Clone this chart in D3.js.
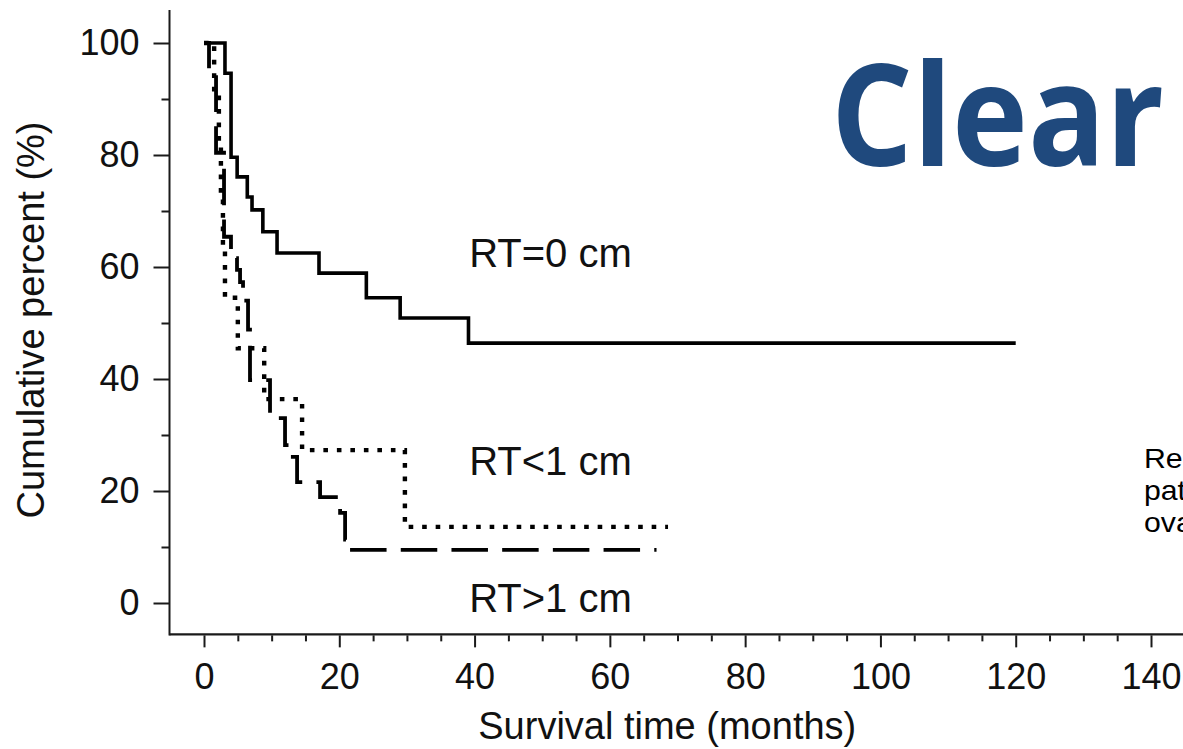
<!DOCTYPE html>
<html>
<head>
<meta charset="utf-8">
<script src="https://cdn.jsdelivr.net/npm/d3@7"></script>
<style>
  html, body { margin: 0; padding: 0; background: #fff; overflow: hidden; }
  svg { display: block; }
  text { font-family: "Liberation Sans", Arial, Helvetica, sans-serif; fill: #111; }
</style>
</head>
<body>
<svg id="chart" width="1183" height="749"></svg>
<script>
// ---- axis ticks ----
const xTicks = [0, 20, 40, 60, 80, 100, 120, 140];
const xMinorTicks = [5, 10, 15, 25, 30, 35, 45, 50, 55, 65, 70, 75, 85, 90, 95, 105, 110, 115, 125, 130, 135, 145, 150];
const yTicks = [0, 20, 40, 60, 80, 100];
const yMinorTicks = [10, 30, 50, 70, 90];

// ---- Kaplan-Meier curves: time (months) and cumulative percent surviving ----
// residual tumour = 0 cm (solid)
const rt0Time = [0, 3.1, 4.0, 4.9, 6.4, 7.1, 8.7, 10.8, 17.0, 24.0, 29.0, 39.1, 120];
const rt0Pct  = [100, 94.6, 79.6, 76.1, 72.5, 70.2, 66.3, 62.5, 58.9, 54.5, 50.9, 46.4, 46.4];

// residual tumour < 1 cm (dotted)
const rtLt1Time = [0, 1.5, 2.2, 2.5, 2.8, 3.1, 5.0, 8.9, 14.5, 29.7, 68.6];
const rtLt1Pct  = [100, 90.9, 81.8, 72.7, 63.6, 54.5, 45.5, 36.4, 27.3, 13.6, 13.6];

// residual tumour > 1 cm (dashed)
const rtGt1Time = [0, 0.74, 1.78, 2.96, 3.99, 4.88, 5.33, 5.77, 6.51, 6.80, 9.76, 11.98, 12.57, 13.76, 17.16, 20.12, 20.86, 21.15, 66.9];
const rtGt1Pct  = [100, 93.9, 80.4, 65.4, 61.6, 59.5, 57.3, 54.0, 48.8, 39.8, 33.0, 28.2, 26.1, 21.6, 18.9, 16.1, 11.3, 9.5, 9.5];

const curveLabels = ["RT=0 cm", "RT<1 cm", "RT>1 cm"];
const labelPos = [[39.2, 60.0], [39.2, 22.9], [39.2, -1.6]]; // [months, percent] of each label's start/baseline

const xTitle = "Survival time (months)";
const yTitle = "Cumulative percent (%)";
const headline = "Clear";
const captionLines = ["Residual tumour and survival of", "patients with clear cell", "ovarian carcinoma"];

// ---- scales ----
const svg = d3.select("#chart");
const x = d3.scaleLinear().domain([0, 140]).range([204, 1151]);
const y = d3.scaleLinear().domain([0, 100]).range([603, 43]);
const xLo = -5.1, xHi = 152, yLo = -5.6, yHi = 105.9;

const ink = "#1a1a1a";

// ---- axis frame ----
svg.append("line")
  .attr("x1", x(xLo)).attr("x2", x(xHi))
  .attr("y1", y(yLo)).attr("y2", y(yLo))
  .attr("stroke", ink).attr("stroke-width", 2.4);
svg.append("line")
  .attr("x1", x(xLo)).attr("x2", x(xLo))
  .attr("y1", y(yLo) + 1.2).attr("y2", y(yHi))
  .attr("stroke", ink).attr("stroke-width", 2);

function styleAxis(g) {
  g.select(".domain").remove();
  g.selectAll(".tick line").attr("stroke", ink).attr("stroke-width", 2);
  g.selectAll(".tick text")
    .attr("fill", "#111")
    .style("font-family", '"Liberation Sans", Arial, sans-serif')
    .style("font-size", "36px");
}

// x axis
svg.append("g")
  .attr("transform", `translate(0,${y(yLo) + 1})`)
  .call(d3.axisBottom(x).tickValues(xMinorTicks).tickSize(6).tickFormat(""))
  .call(styleAxis);
svg.append("g")
  .attr("transform", `translate(0,${y(yLo) + 1})`)
  .call(d3.axisBottom(x).tickValues(xTicks).tickSize(12).tickPadding(16))
  .call(styleAxis);

// y axis
svg.append("g")
  .attr("transform", `translate(${x(xLo)},0)`)
  .call(d3.axisLeft(y).tickValues(yMinorTicks).tickSize(8).tickFormat(""))
  .call(styleAxis);
svg.append("g")
  .attr("transform", `translate(${x(xLo)},0)`)
  .call(d3.axisLeft(y).tickValues(yTicks).tickSize(16).tickPadding(14))
  .call(styleAxis);

// ---- axis titles ----
svg.append("text")
  .attr("x", (x(xLo) + 1165) / 2).attr("y", 739)
  .attr("text-anchor", "middle")
  .style("font-size", "38px")
  .text(xTitle);
svg.append("text")
  .attr("transform", `translate(44,320) rotate(-90)`)
  .attr("text-anchor", "middle")
  .style("font-size", "38px")
  .text(yTitle);

// ---- survival curves ----
const step = d3.line()
  .x(d => x(d[0]))
  .y(d => y(d[1]))
  .curve(d3.curveStepAfter);

const zip = (t, p) => t.map((v, i) => [v, p[i]]);
const solidData = zip(rt0Time, rt0Pct);
const dottedData = zip(rtLt1Time, rtLt1Pct);
const dashedData = zip(rtGt1Time, rtGt1Pct);

svg.append("path")
  .attr("d", step(solidData))
  .attr("fill", "none").attr("stroke", "#000")
  .attr("stroke-width", 3.6);

svg.append("path")
  .attr("d", step(dottedData))
  .attr("fill", "none").attr("stroke", "#000")
  .attr("stroke-width", 4.4)
  .attr("stroke-dasharray", "4.6 8.9");

// dashed curve: phase the pattern so a dash starts just after the final drop
const dashOn = 36.5, dashOff = 14.2, period = dashOn + dashOff;
const probe = svg.append("path")
  .attr("d", step(dashedData.slice(0, dashedData.length - 1)))
  .attr("fill", "none").attr("stroke", "none");
const lenToLast = probe.node().getTotalLength() + 3;
probe.remove();
svg.append("path")
  .attr("d", step(dashedData))
  .attr("fill", "none").attr("stroke", "#000")
  .attr("stroke-width", 3.8)
  .attr("stroke-dasharray", `${dashOn} ${dashOff}`)
  .attr("stroke-dashoffset", period - (lenToLast % period));

// ---- curve labels ----
svg.selectAll("text.curve-label")
  .data(curveLabels)
  .join("text")
  .attr("class", "curve-label")
  .attr("x", (d, i) => x(labelPos[i][0]))
  .attr("y", (d, i) => y(labelPos[i][1]))
  .style("font-size", "40px")
  .text(d => d);

// ---- headline ----
svg.append("text")
  .attr("x", 831).attr("y", 166)
  .attr("textLength", 333)
  .attr("lengthAdjust", "spacingAndGlyphs")
  .style("font-family", '"Open Sans", "Noto Sans", sans-serif')
  .style("font-weight", 700)
  .style("font-size", "141px")
  .style("fill", "#1F497D")
  .text(headline);

// ---- caption (runs off the right edge) ----
svg.selectAll("text.caption")
  .data(captionLines)
  .join("text")
  .attr("class", "caption")
  .attr("transform", (d, i) => `translate(1144,${468 + i * 32}) scale(1.08,1)`)
  .style("font-size", "28px")
  .style("fill", "#000")
  .text(d => d);
</script>
</body>
</html>
